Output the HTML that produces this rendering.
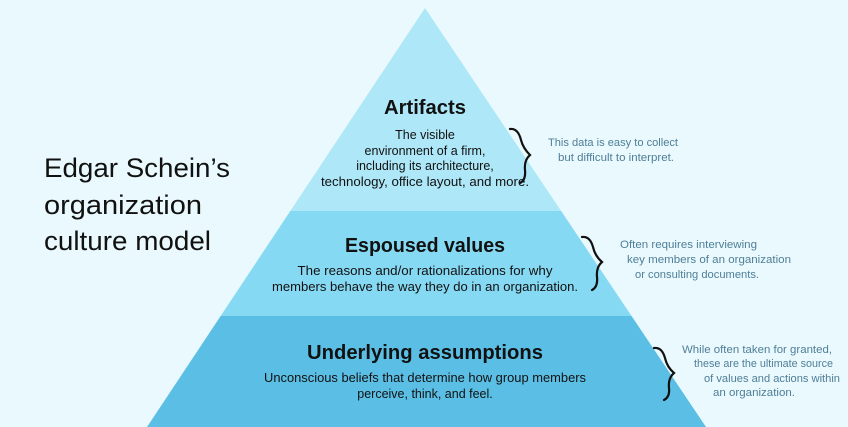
<!DOCTYPE html>
<html><head><meta charset="utf-8"><style>
html,body{margin:0;padding:0;background:#e9f9fd;}
svg{display:block}
text{font-family:"Liberation Sans",sans-serif}
</style></head><body>
<svg width="848" height="427" viewBox="0 0 848 427" xmlns="http://www.w3.org/2000/svg">
<rect width="848" height="427" fill="#e9f9fd"/>
<defs><clipPath id="tri"><polygon points="425,8 147,427 706,427"/></clipPath></defs>
<g clip-path="url(#tri)">
<rect x="0" y="0" width="848" height="211" fill="#aee7f8"/>
<rect x="0" y="211" width="848" height="105" fill="#86d9f3"/>
<rect x="0" y="316" width="848" height="111" fill="#5bbfe5"/>
</g>
<g fill="#111">
<text x="44" y="177" font-size="27" textLength="186" lengthAdjust="spacingAndGlyphs">Edgar Schein’s</text>
<text x="44" y="214" font-size="27" textLength="158" lengthAdjust="spacingAndGlyphs">organization</text>
<text x="44" y="250" font-size="27" textLength="167" lengthAdjust="spacingAndGlyphs">culture model</text>
</g>
<g fill="#111" text-anchor="middle">
<text x="425" y="114" font-size="20" font-weight="bold" textLength="82" lengthAdjust="spacingAndGlyphs">Artifacts</text>
<text x="425" y="139" font-size="12.5">The visible</text>
<text x="425" y="155" font-size="12.5">environment of a firm,</text>
<text x="425" y="170" font-size="12.5">including its architecture,</text>
<text x="425" y="186" font-size="12.5" textLength="208" lengthAdjust="spacingAndGlyphs">technology, office layout, and more.</text>
<text x="425" y="252" font-size="20" font-weight="bold" textLength="160" lengthAdjust="spacingAndGlyphs">Espoused values</text>
<text x="425" y="275" font-size="12.5" textLength="255" lengthAdjust="spacingAndGlyphs">The reasons and/or rationalizations for why</text>
<text x="425" y="291" font-size="12.5" textLength="306" lengthAdjust="spacingAndGlyphs">members behave the way they do in an organization.</text>
<text x="425" y="359" font-size="20" font-weight="bold" textLength="236" lengthAdjust="spacingAndGlyphs">Underlying assumptions</text>
<text x="425" y="382" font-size="12.5" textLength="322" lengthAdjust="spacingAndGlyphs">Unconscious beliefs that determine how group members</text>
<text x="425" y="398" font-size="12.5">perceive, think, and feel.</text>
</g>
<g fill="none" stroke="#111" stroke-width="2.2" stroke-linecap="round">
<path d="M510,129 Q518,128 521,140 Q523,148 530,155 Q524,160 525,170 Q526,180 520,183"/>
<path d="M582,237 Q590,236 593,247 Q595,256 602,262 Q596,267 597,277 Q598,287 592,290"/>
<path d="M654,348 Q662,347 665,358 Q667,367 674,373 Q668,378 669,388 Q670,397 664,400"/>
</g>
<g fill="#4f7e98" font-size="11.2">
<text x="548" y="146" textLength="130" lengthAdjust="spacingAndGlyphs">This data is easy to collect</text>
<text x="558" y="161" textLength="116" lengthAdjust="spacingAndGlyphs">but difficult to interpret.</text>
<text x="620" y="248" textLength="137" lengthAdjust="spacingAndGlyphs">Often requires interviewing</text>
<text x="627" y="263" textLength="164" lengthAdjust="spacingAndGlyphs">key members of an organization</text>
<text x="635" y="278" textLength="124" lengthAdjust="spacingAndGlyphs">or consulting documents.</text>
<text x="682" y="353" textLength="150" lengthAdjust="spacingAndGlyphs">While often taken for granted,</text>
<text x="694" y="367" textLength="139" lengthAdjust="spacingAndGlyphs">these are the ultimate source</text>
<text x="704" y="382" textLength="136" lengthAdjust="spacingAndGlyphs">of values and actions within</text>
<text x="713" y="396" textLength="82" lengthAdjust="spacingAndGlyphs">an organization.</text>
</g>
</svg>
</body></html>
